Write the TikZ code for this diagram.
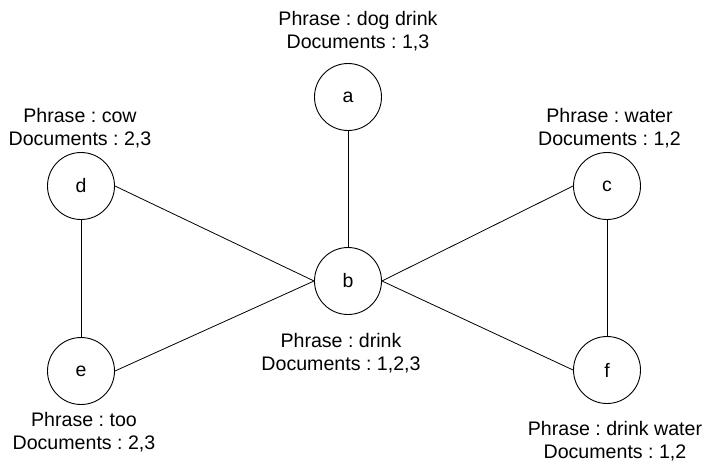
\documentclass[tikz,border=0pt]{standalone}
\usepackage{fontspec}
\setmainfont{Liberation Sans}
\frenchspacing
\begin{document}
\begin{tikzpicture}[x=1pt,y=-1pt,
  vert/.style={circle,draw,line width=0.9pt,minimum size=67pt,inner sep=0pt,font=\fontsize{19.5}{23}\selectfont},
  lbl/.style={align=center,inner sep=0pt,font=\fontsize{19.6}{23.3}\selectfont},
  edge/.style={line width=0.8pt}]
\useasboundingbox (0,0) rectangle (704,464);
\node[vert] (a) at (348,97) {a};
\node[vert] (b) at (348,281) {b};
\node[vert] (d) at (81,186) {d};
\node[vert] (e) at (81,371) {e};
\node[vert] (c) at (607,186) {c};
\node[vert] (f) at (607,370) {f};
\node[lbl] (la) at (358,31) {Phrase : dog drink\\Documents : 1,3};
\node[lbl] (ld) at (80,128) {Phrase : cow\\Documents : 2,3};
\node[lbl] (lc) at (609.5,128) {Phrase : water\\Documents : 1,2};
\node[lbl] (lb) at (341,353) {Phrase : drink\\Documents : 1,2,3};
\node[lbl] (le) at (84,432) {Phrase : too\\Documents : 2,3};
\node[lbl] (lf) at (615,441) {Phrase : drink water\\Documents : 1,2};
\draw[edge] (a.south) -- (b.north);
\draw[edge] (d.east) -- (b.west);
\draw[edge] (e.east) -- (b.west);
\draw[edge] (c.west) -- (b.east);
\draw[edge] (f.west) -- (b.east);
\draw[edge] (d.south) -- (e.north);
\draw[edge] (c.south) -- (f.north);
\end{tikzpicture}
\end{document}
